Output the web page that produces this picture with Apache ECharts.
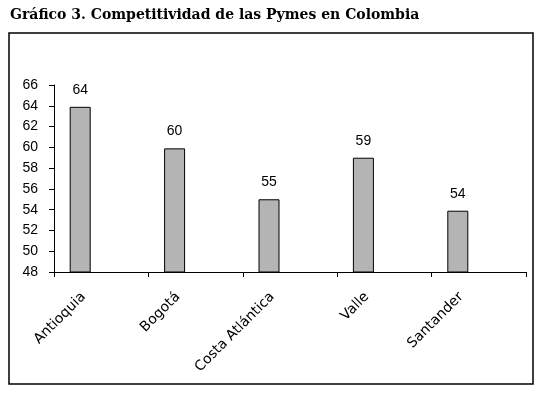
<!DOCTYPE html>
<html>
<head>
<meta charset="utf-8">
<script src="https://cdn.jsdelivr.net/npm/echarts@6/dist/echarts.min.js"></script>
<style>
  html, body { margin: 0; padding: 0; background: #fff; }
  #chart { width: 543px; height: 397px; }
</style>
</head>
<body>
<div id="chart"></div>
<script>
var regiones = ['Antioquia', 'Bogotá', 'Costa Atlántica', 'Valle', 'Santander'];
var competitividad = [63.9, 59.9, 55.0, 59.0, 53.9];
var vacio = [];   // Excel left two empty slots per category

var myChart = echarts.init(document.getElementById('chart'));

var serieVacia = function () {
    return { type: 'bar', data: vacio, barWidth: 21, barGap: 0, silent: true };
};

var option = {
    backgroundColor: '#ffffff',
    animation: false,
    title: {
        text: 'Gráfico 3. Competitividad de las Pymes en Colombia',
        left: 5,
        top: 3,
        textStyle: {
            fontFamily: 'DejaVu Serif',
            fontWeight: 'bold',
            fontSize: 14,
            color: '#000'
        }
    },
    graphic: [{
        type: 'rect',
        shape: { x: 9, y: 33, width: 524, height: 351 },
        style: { fill: 'none', stroke: '#000', lineWidth: 1.5 },
        silent: true
    }],
    grid: { left: 54, right: 17, top: 85, bottom: 125 },
    xAxis: {
        type: 'category',
        data: regiones,
        axisLine: { lineStyle: { color: '#000', width: 1 } },
        axisTick: { show: true, length: 5, lineStyle: { color: '#000' } },
        axisLabel: {
            rotate: 45,
            interval: 0,
            margin: 5,
            padding: [0, 25, 0, 0],
            color: '#000',
            fontFamily: 'DejaVu Sans',
            fontSize: 14
        }
    },
    yAxis: {
        type: 'value',
        min: 48,
        max: 66,
        interval: 2,
        axisLine: { show: true, lineStyle: { color: '#000', width: 1 } },
        axisTick: { show: true, length: 5, lineStyle: { color: '#000' } },
        splitLine: { show: false },
        axisLabel: {
            margin: 16,
            color: '#000',
            fontFamily: 'Liberation Sans',
            fontSize: 14
        }
    },
    series: [{
        name: 'competitividad',
        type: 'bar',
        data: competitividad,
        barWidth: 21,
        barGap: 0,
        itemStyle: { color: '#b4b4b4', borderColor: '#000', borderWidth: 1 },
        label: {
            show: true,
            position: 'top',
            distance: 10,
            color: '#000',
            fontFamily: 'Liberation Sans',
            fontSize: 14,
            formatter: function (p) { return Math.round(p.value); }
        }
    }, serieVacia(), serieVacia()]
};

myChart.setOption(option);
</script>
</body>
</html>
